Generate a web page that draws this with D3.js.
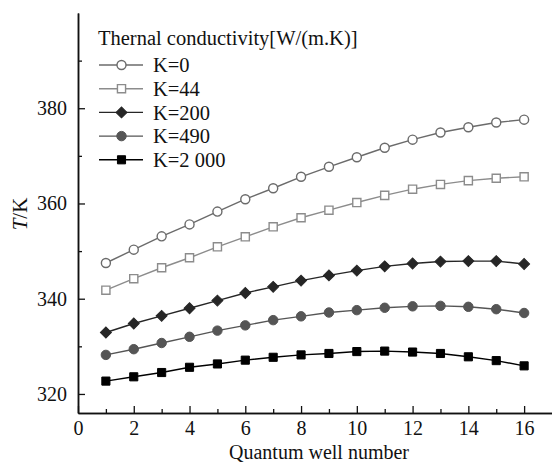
<!DOCTYPE html>
<html lang="en">
<head>
<meta charset="UTF-8">
<title>Temperature vs quantum well number</title>
<script src="https://cdn.jsdelivr.net/npm/d3@7.8.5/dist/d3.min.js"></script>
<style>
  body { margin: 0; background: #fff; }
  svg { display: block; }
  svg text { font-family: "Liberation Serif", "DejaVu Serif", serif; fill: #111; }
  .tick text { font-size: 20px; }
</style>
</head>
<body>
<svg id="chart" width="552" height="464"></svg>
<script>
// well numbers along the x axis
const wells = d3.range(1, 17);

// temperature (K) per series
const k0    = [347.5, 350.3, 353.1, 355.6, 358.3, 360.9, 363.2, 365.6, 367.7, 369.7, 371.7, 373.4, 374.9, 376.0, 377.0, 377.6];
const k44   = [341.8, 344.2, 346.5, 348.6, 350.9, 353.0, 355.1, 357.0, 358.6, 360.2, 361.7, 363.0, 364.0, 364.8, 365.3, 365.6];
const k200  = [332.9, 334.8, 336.4, 338.0, 339.6, 341.2, 342.5, 343.8, 344.9, 345.9, 346.8, 347.4, 347.8, 347.9, 347.9, 347.3];
const k490  = [328.2, 329.4, 330.7, 332.0, 333.3, 334.4, 335.5, 336.3, 337.1, 337.6, 338.1, 338.4, 338.5, 338.3, 337.8, 337.0];
const k2000 = [322.7, 323.6, 324.5, 325.6, 326.3, 327.1, 327.7, 328.2, 328.5, 328.9, 329.0, 328.8, 328.5, 327.8, 327.0, 325.9];

const seriesNames = ["K=0", "K=44", "K=200", "K=490", "K=2 000"];
const xTicks = [0, 2, 4, 6, 8, 10, 12, 14, 16];
const yTicks = [320, 340, 360, 380];

const series = [
  { name: seriesNames[0], values: k0,    stroke: "#6b6b6b", fill: "#fff",    shape: "circle" },
  { name: seriesNames[1], values: k44,   stroke: "#8c8c8c", fill: "#fff",    shape: "square" },
  { name: seriesNames[2], values: k200,  stroke: "#262626", fill: "#262626", shape: "diamond" },
  { name: seriesNames[3], values: k490,  stroke: "#555555", fill: "#555555", shape: "dot" },
  { name: seriesNames[4], values: k2000, stroke: "#000",    fill: "#000",    shape: "square" }
];

const svg = d3.select("#chart");
const margin = { left: 78, top: 13, right: 0, bottom: 51 };
const width = 552, height = 464;

const x = d3.scaleLinear().domain([0, 17]).range([margin.left, width - margin.right]);
const y = d3.scaleLinear().domain([316, 400]).range([height - margin.bottom, margin.top]);

// axes, ticks pointing inward
const xAxis = svg.append("g")
  .attr("transform", `translate(0,${y(316)})`)
  .call(d3.axisBottom(x).tickValues(xTicks).tickSize(-7).tickPadding(7).tickSizeOuter(0));
svg.append("g")
  .attr("transform", `translate(0,${y(316)})`)
  .call(d3.axisBottom(x).tickValues(d3.range(1, 17, 2)).tickSize(-4).tickFormat("").tickSizeOuter(0));

const yAxis = svg.append("g")
  .attr("transform", `translate(${x(0)},0)`)
  .call(d3.axisLeft(y).tickValues(yTicks).tickSize(-7).tickPadding(11).tickSizeOuter(0));
svg.append("g")
  .attr("transform", `translate(${x(0)},0)`)
  .call(d3.axisLeft(y).tickValues([330, 350, 370, 390]).tickSize(-4).tickFormat("").tickSizeOuter(0));

svg.selectAll("g").attr("font-family", null).attr("font-size", null);
svg.selectAll(".domain").attr("stroke", "#111").attr("stroke-width", 1.5);
svg.selectAll(".tick line").attr("stroke", "#111").attr("stroke-width", 1.3);
xAxis.selectAll(".tick text").attr("dy", "0.75em");

// axis titles
svg.append("text")
  .attr("x", 319).attr("y", 459)
  .attr("text-anchor", "middle")
  .style("font-size", "20px")
  .text("Quantum well number");

const yTitle = svg.append("text")
  .attr("transform", "translate(27,214) rotate(-90)")
  .attr("text-anchor", "middle")
  .style("font-size", "21px");
yTitle.append("tspan").style("font-style", "italic").text("T");
yTitle.append("tspan").text("/K");

// marker drawing
const symbols = {
  circle: d3.symbol(d3.symbolCircle, 64),
  dot: d3.symbol(d3.symbolCircle, 70),
  square: d3.symbol(d3.symbolSquare, 66),
  diamond: d3.symbol(d3.symbolSquare, 60)
};

function drawMarker(g, s) {
  g.append("path")
    .attr("d", symbols[s.shape]())
    .attr("transform", s.shape === "diamond" ? "rotate(45)" : null)
    .attr("fill", s.fill)
    .attr("stroke", s.stroke)
    .attr("stroke-width", s.fill === "#fff" ? 1.4 : 1);
}

const line = d3.line().x((d, i) => x(wells[i])).y(d => y(d));

series.forEach(s => {
  const g = svg.append("g");
  g.append("path")
    .datum(s.values)
    .attr("d", line)
    .attr("fill", "none")
    .attr("stroke", s.stroke)
    .attr("stroke-width", 1.4);
  s.values.forEach((v, i) => {
    const m = g.append("g").attr("transform", `translate(${x(wells[i])},${y(v)})`);
    drawMarker(m, s);
  });
});

// legend
const legend = svg.append("g");
legend.append("text")
  .attr("x", 98).attr("y", 45)
  .style("font-size", "20.5px")
  .text("Thernal conductivity[W/(m.K)]");

series.forEach((s, i) => {
  const ly = 65 + i * 23.7;
  legend.append("line")
    .attr("x1", 99).attr("x2", 143)
    .attr("y1", ly).attr("y2", ly)
    .attr("stroke", s.stroke).attr("stroke-width", 1.4);
  const m = legend.append("g").attr("transform", `translate(121.5,${ly})`);
  drawMarker(m, s);
  legend.append("text")
    .attr("x", 153).attr("y", ly)
    .attr("dy", "0.35em")
    .style("font-size", "20.5px")
    .text(s.name);
});
</script>
</body>
</html>
